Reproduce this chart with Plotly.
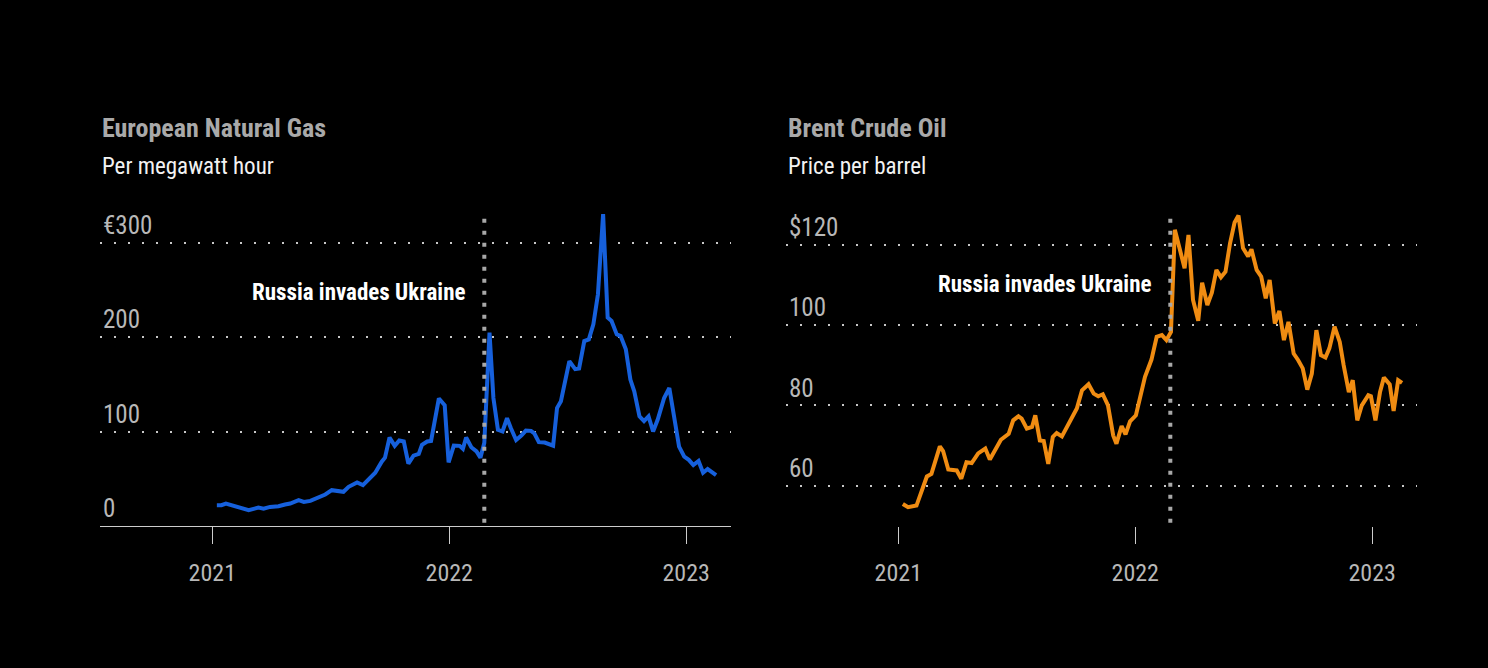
import plotly.graph_objects as go

# ---------------- data ----------------
gas_dates = ["2021-01-08","2021-01-15","2021-01-22","2021-02-02","2021-02-26","2021-03-13","2021-03-21",
             "2021-03-31","2021-04-13","2021-04-23","2021-05-01","2021-05-14","2021-05-22","2021-06-01",
             "2021-06-11","2021-06-24","2021-07-04","2021-07-12","2021-07-22","2021-07-30","2021-08-12",
             "2021-08-21","2021-08-30","2021-09-09","2021-09-19","2021-09-24","2021-10-01","2021-10-09",
             "2021-10-16","2021-10-23","2021-10-30","2021-11-07","2021-11-15","2021-11-20","2021-11-28",
             "2021-12-04","2021-12-16","2021-12-25","2021-12-31","2022-01-08","2022-01-17","2022-01-22",
             "2022-01-27","2022-02-04","2022-02-12","2022-02-18","2022-02-24","2022-03-04","2022-03-10",
             "2022-03-17","2022-03-24","2022-03-31","2022-04-06","2022-04-14","2022-04-22","2022-04-29",
             "2022-05-07","2022-05-12","2022-05-19","2022-05-28","2022-06-10","2022-06-16","2022-06-22",
             "2022-07-05","2022-07-14","2022-07-20","2022-07-28","2022-08-04","2022-08-11","2022-08-18",
             "2022-08-26","2022-09-02","2022-09-08","2022-09-16","2022-09-22","2022-09-30","2022-10-07",
             "2022-10-13","2022-10-21","2022-10-28","2022-11-04","2022-11-11","2022-11-18","2022-11-28",
             "2022-12-06","2022-12-14","2022-12-21","2022-12-29","2023-01-05","2023-01-12","2023-01-20",
             "2023-01-27","2023-02-03","2023-02-16"]
gas_values = [22, 22, 23.8, 21.3, 16.7, 19.5, 18.4,
              20.2, 20.9, 22.7, 23.8, 27.3, 25.5, 26.6,
              29.1, 33.3, 37.9, 37.2, 36.2, 41.5, 46.1,
              43.3, 49.3, 56.4, 68.1, 72.3, 93.6, 84.8,
              90.4, 89.4, 66, 74.5, 76.2, 85.8, 89.4,
              90, 135, 127.7, 67.4, 85.1, 84.8, 81.6,
              93.6, 83.3, 78.9, 72.3, 88, 204.6, 135.5,
              101.8, 100, 114, 103.5, 91, 95.7, 101,
              100.7, 98, 88.7, 88.3, 85, 124.8, 132,
              174.5, 166, 166.7, 195.7, 197.5, 213.5, 245,
              330, 220.6, 217, 202.8, 201, 186.9, 155,
              142.6, 116, 111, 116, 100, 112.4, 135.5,
              146, 114, 84, 73.4, 70, 64.5, 68.8,
              56.4, 60.3, 53.9]

oil_dates = ["2021-01-08","2021-01-16","2021-01-29","2021-02-06","2021-02-14","2021-02-21","2021-03-06",
             "2021-03-11","2021-03-19","2021-04-01","2021-04-08","2021-04-16","2021-04-24","2021-05-04",
             "2021-05-15","2021-05-22","2021-06-02","2021-06-08","2021-06-20","2021-06-27","2021-07-05",
             "2021-07-10","2021-07-18","2021-07-26","2021-07-31","2021-08-07","2021-08-13","2021-08-20",
             "2021-08-27","2021-09-02","2021-09-10","2021-09-23","2021-10-03","2021-10-11","2021-10-21",
             "2021-10-29","2021-11-05","2021-11-12","2021-11-20","2021-11-28","2021-12-03","2021-12-11",
             "2021-12-17","2021-12-24","2022-01-02","2022-01-16","2022-01-26","2022-02-03","2022-02-11",
             "2022-02-18","2022-02-25","2022-03-03","2022-03-09","2022-03-18","2022-03-24","2022-03-31",
             "2022-04-08","2022-04-14","2022-04-22","2022-04-29","2022-05-06","2022-05-13","2022-05-20",
             "2022-05-27","2022-06-03","2022-06-09","2022-06-16","2022-06-24","2022-06-29","2022-07-07",
             "2022-07-14","2022-07-21","2022-07-27","2022-08-04","2022-08-11","2022-08-18","2022-08-25",
             "2022-09-02","2022-09-09","2022-09-16","2022-09-23","2022-09-30","2022-10-07","2022-10-14",
             "2022-10-21","2022-10-27","2022-11-04","2022-11-12","2022-11-18","2022-11-26","2022-12-02",
             "2022-12-09","2022-12-16","2022-12-26","2022-12-30","2023-01-06","2023-01-13","2023-01-19",
             "2023-01-28","2023-02-03","2023-02-10","2023-02-16"]
oil_values = [55.4, 54.6, 55, 58.75, 62.25, 62.9, 69.75,
              68.6, 64, 63.75, 61.7, 65.8, 65.6, 68,
              69.2, 66.5, 70, 71.4, 72.9, 76.25, 77.25,
              76.7, 74.2, 74.6, 77.5, 71.25, 71.1, 65.4,
              72.1, 73.1, 72.25, 76.4, 79.2, 83.75, 85.25,
              82.9, 82.25, 82.75, 80, 72.5, 70.4, 74.8,
              72.75, 76, 77.5, 87.1, 91.4, 97.1, 97.5,
              96.25, 98.3, 123.75, 119.6, 114.2, 122.5, 106.25,
              101.1, 110.6, 105, 108.1, 113.75, 111.9, 113.3,
              120.4, 125.6, 127.3, 119.2, 117.1, 118.9, 113.75,
              112.1, 106.7, 111.25, 100.4, 103.5, 96.25, 100.8,
              92.9, 91.25, 89.2, 83.9, 87.9, 98.75, 92.5,
              91.9, 94.2, 99.6, 95.8, 90, 83.3, 86.25,
              76.25, 80, 82.5, 82.25, 76.25, 83.3, 86.9,
              85.2, 78.6, 86.25, 85.6]

year_ticks = ["2021-01-01", "2022-01-01", "2023-01-01"]
year_labels = ["2021", "2022", "2023"]
gas_tickvals = [0, 100, 200, 300]
gas_ticktext = ["0", "100", "200", "€300"]
oil_tickvals = [60, 80, 100, 120]
oil_ticktext = ["60", "80", "100", "$120"]
invasion_date = "2022-02-24"
event_label = "Russia invades Ukraine"

# ---------------- styling ----------------
FONT = "Roboto Condensed, Open Sans, sans-serif"
BLUE = "#1660dc"
ORANGE = "#f08c12"
TICK = "#b8b8b8"
GRID = "#c8c8c8"
W, H = 1488, 668

def px_x(p):
    return p / W

def px_y(p):
    return 1 - p / H

y_dom = [px_y(526), px_y(210)]
x_dom1 = [px_x(100), px_x(731)]
x_dom2 = [px_x(786), px_x(1417)]
x_range = ["2020-07-12", "2023-03-11"]

fig = go.Figure()
fig.add_trace(go.Scatter(x=gas_dates, y=gas_values, mode="lines",
                         line=dict(color=BLUE, width=4), xaxis="x", yaxis="y",
                         hoverinfo="skip", showlegend=False))
fig.add_trace(go.Scatter(x=oil_dates, y=oil_values, mode="lines",
                         line=dict(color=ORANGE, width=4), xaxis="x2", yaxis="y2",
                         hoverinfo="skip", showlegend=False))

xcommon = dict(type="date", range=x_range, tickvals=year_ticks, ticktext=year_labels,
               ticks="outside", ticklen=17, tickwidth=1, tickcolor="#cccccc",
               ticklabelstandoff=8,
               showgrid=False, zeroline=False,
               tickfont=dict(family=FONT, size=24, color=TICK), fixedrange=True)
ycommon = dict(showgrid=True, gridcolor=GRID, gridwidth=1.5, griddash="2px,12px",
               zeroline=False, showline=False, ticks="",
               ticklabelposition="inside top",
               tickfont=dict(family=FONT, size=25, color=TICK), fixedrange=True)

fig.update_layout(
    width=W, height=H,
    paper_bgcolor="black", plot_bgcolor="black",
    margin=dict(l=0, r=0, t=0, b=0),
    showlegend=False,
    xaxis=dict(domain=x_dom1, anchor="y", showline=True, linecolor="#cccccc", linewidth=1, **xcommon),
    yaxis=dict(domain=y_dom, anchor="x", range=[0, 334.4],
               tickvals=gas_tickvals, ticktext=gas_ticktext, **ycommon),
    xaxis2=dict(domain=x_dom2, anchor="y2", showline=False, **xcommon),
    yaxis2=dict(domain=y_dom, anchor="x2", range=[49.9, 128.7],
                tickvals=oil_tickvals, ticktext=oil_ticktext, **ycommon),
)

# invasion marker lines
for xr, yr in [("x", "y domain"), ("x2", "y2 domain")]:
    fig.add_shape(type="line", xref=xr, yref=yr, x0=invasion_date, x1=invasion_date,
                  y0=0.01, y1=0.978, line=dict(color="#a8a8a8", width=4, dash="4px,8px"),
                  layer="above")

# event labels
fig.add_annotation(x=invasion_date, y=247, xref="x", yref="y", text=f"<b>{event_label}</b>",
                   showarrow=False, xanchor="right", yanchor="middle", xshift=-17,
                   font=dict(family=FONT, size=23, color="white"))
fig.add_annotation(x=invasion_date, y=110, xref="x2", yref="y2", text=f"<b>{event_label}</b>",
                   showarrow=False, xanchor="right", yanchor="middle", xshift=-17,
                   font=dict(family=FONT, size=23, color="white"))

# titles
titles = [("European Natural Gas", "Per megawatt hour", 100),
          ("Brent Crude Oil", "Price per barrel", 786)]
for t, s, xp in titles:
    fig.add_annotation(x=px_x(xp), y=px_y(128), xref="paper", yref="paper", text=f"<b>{t}</b>",
                       showarrow=False, xanchor="left", yanchor="middle",
                       font=dict(family=FONT, size=26, color="#a9a9a9"))
    fig.add_annotation(x=px_x(xp), y=px_y(166), xref="paper", yref="paper", text=s,
                       showarrow=False, xanchor="left", yanchor="middle",
                       font=dict(family=FONT, size=23, color="#f2f2f2"))

fig.write_html("out.html", config={"displayModeBar": False},
               post_script="document.body.style.margin='0';document.body.style.background='black';")
